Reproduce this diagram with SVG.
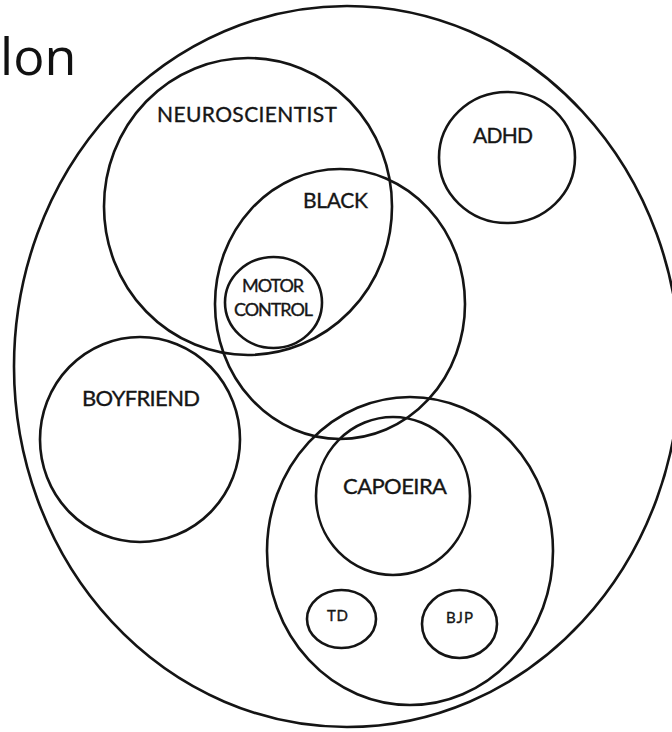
<svg xmlns="http://www.w3.org/2000/svg" width="672" height="732" viewBox="0 0 672 732">
  <style>
    .ring { fill: none; stroke: #141414; stroke-width: 2.6; }
    .lbl { font-family: Lato, "Open Sans", "Liberation Sans", sans-serif; fill: #161616; stroke: #161616; stroke-width: 0.35; }
    .title { font-family: "Open Sans", "Liberation Sans", sans-serif; fill: #111; }
  </style>
  <rect width="672" height="732" fill="#ffffff"/>

  <!-- partial title word at the top-left edge -->
  <text class="title" x="0" y="75" font-size="52">lon</text>

  <!-- whole-set outline -->
  <g id="universe">
    <ellipse class="ring" cx="347" cy="366.5" rx="333" ry="360.5"/>
  </g>

  <g id="neuroscientist">
    <ellipse class="ring" cx="248" cy="206.5" rx="144" ry="148.5"/>
    <text class="lbl" x="157" y="122" font-size="21" textLength="180">NEUROSCIENTIST</text>
  </g>

  <g id="black">
    <ellipse class="ring" cx="340" cy="304" rx="125" ry="135"/>
    <text class="lbl" x="303" y="208" font-size="21" textLength="65">BLACK</text>
  </g>

  <g id="motor-control">
    <ellipse class="ring" cx="273.5" cy="302.5" rx="48.5" ry="45.5"/>
    <text class="lbl" x="242" y="292" font-size="18" textLength="62">MOTOR</text>
    <text class="lbl" x="234" y="316" font-size="18" textLength="79">CONTROL</text>
  </g>

  <g id="adhd">
    <ellipse class="ring" cx="507" cy="157.5" rx="68" ry="65.5"/>
    <text class="lbl" x="473" y="143" font-size="21" textLength="60">ADHD</text>
  </g>

  <g id="boyfriend">
    <ellipse class="ring" cx="140" cy="439.5" rx="100" ry="102.5"/>
    <text class="lbl" x="82" y="406" font-size="22" textLength="118">BOYFRIEND</text>
  </g>

  <g id="group">
    <ellipse class="ring" cx="410" cy="551" rx="143" ry="154"/>
  </g>

  <g id="capoeira">
    <ellipse class="ring" cx="393" cy="496" rx="77" ry="79"/>
    <text class="lbl" x="343" y="494" font-size="22" textLength="104">CAPOEIRA</text>
  </g>

  <g id="td">
    <ellipse class="ring" cx="341.5" cy="619" rx="34.5" ry="29"/>
    <text class="lbl" x="327" y="621" font-size="15" textLength="21">TD</text>
  </g>

  <g id="bjp">
    <ellipse class="ring" cx="459.5" cy="624" rx="37.5" ry="34"/>
    <text class="lbl" x="446" y="623" font-size="15" textLength="27">BJP</text>
  </g>
</svg>
